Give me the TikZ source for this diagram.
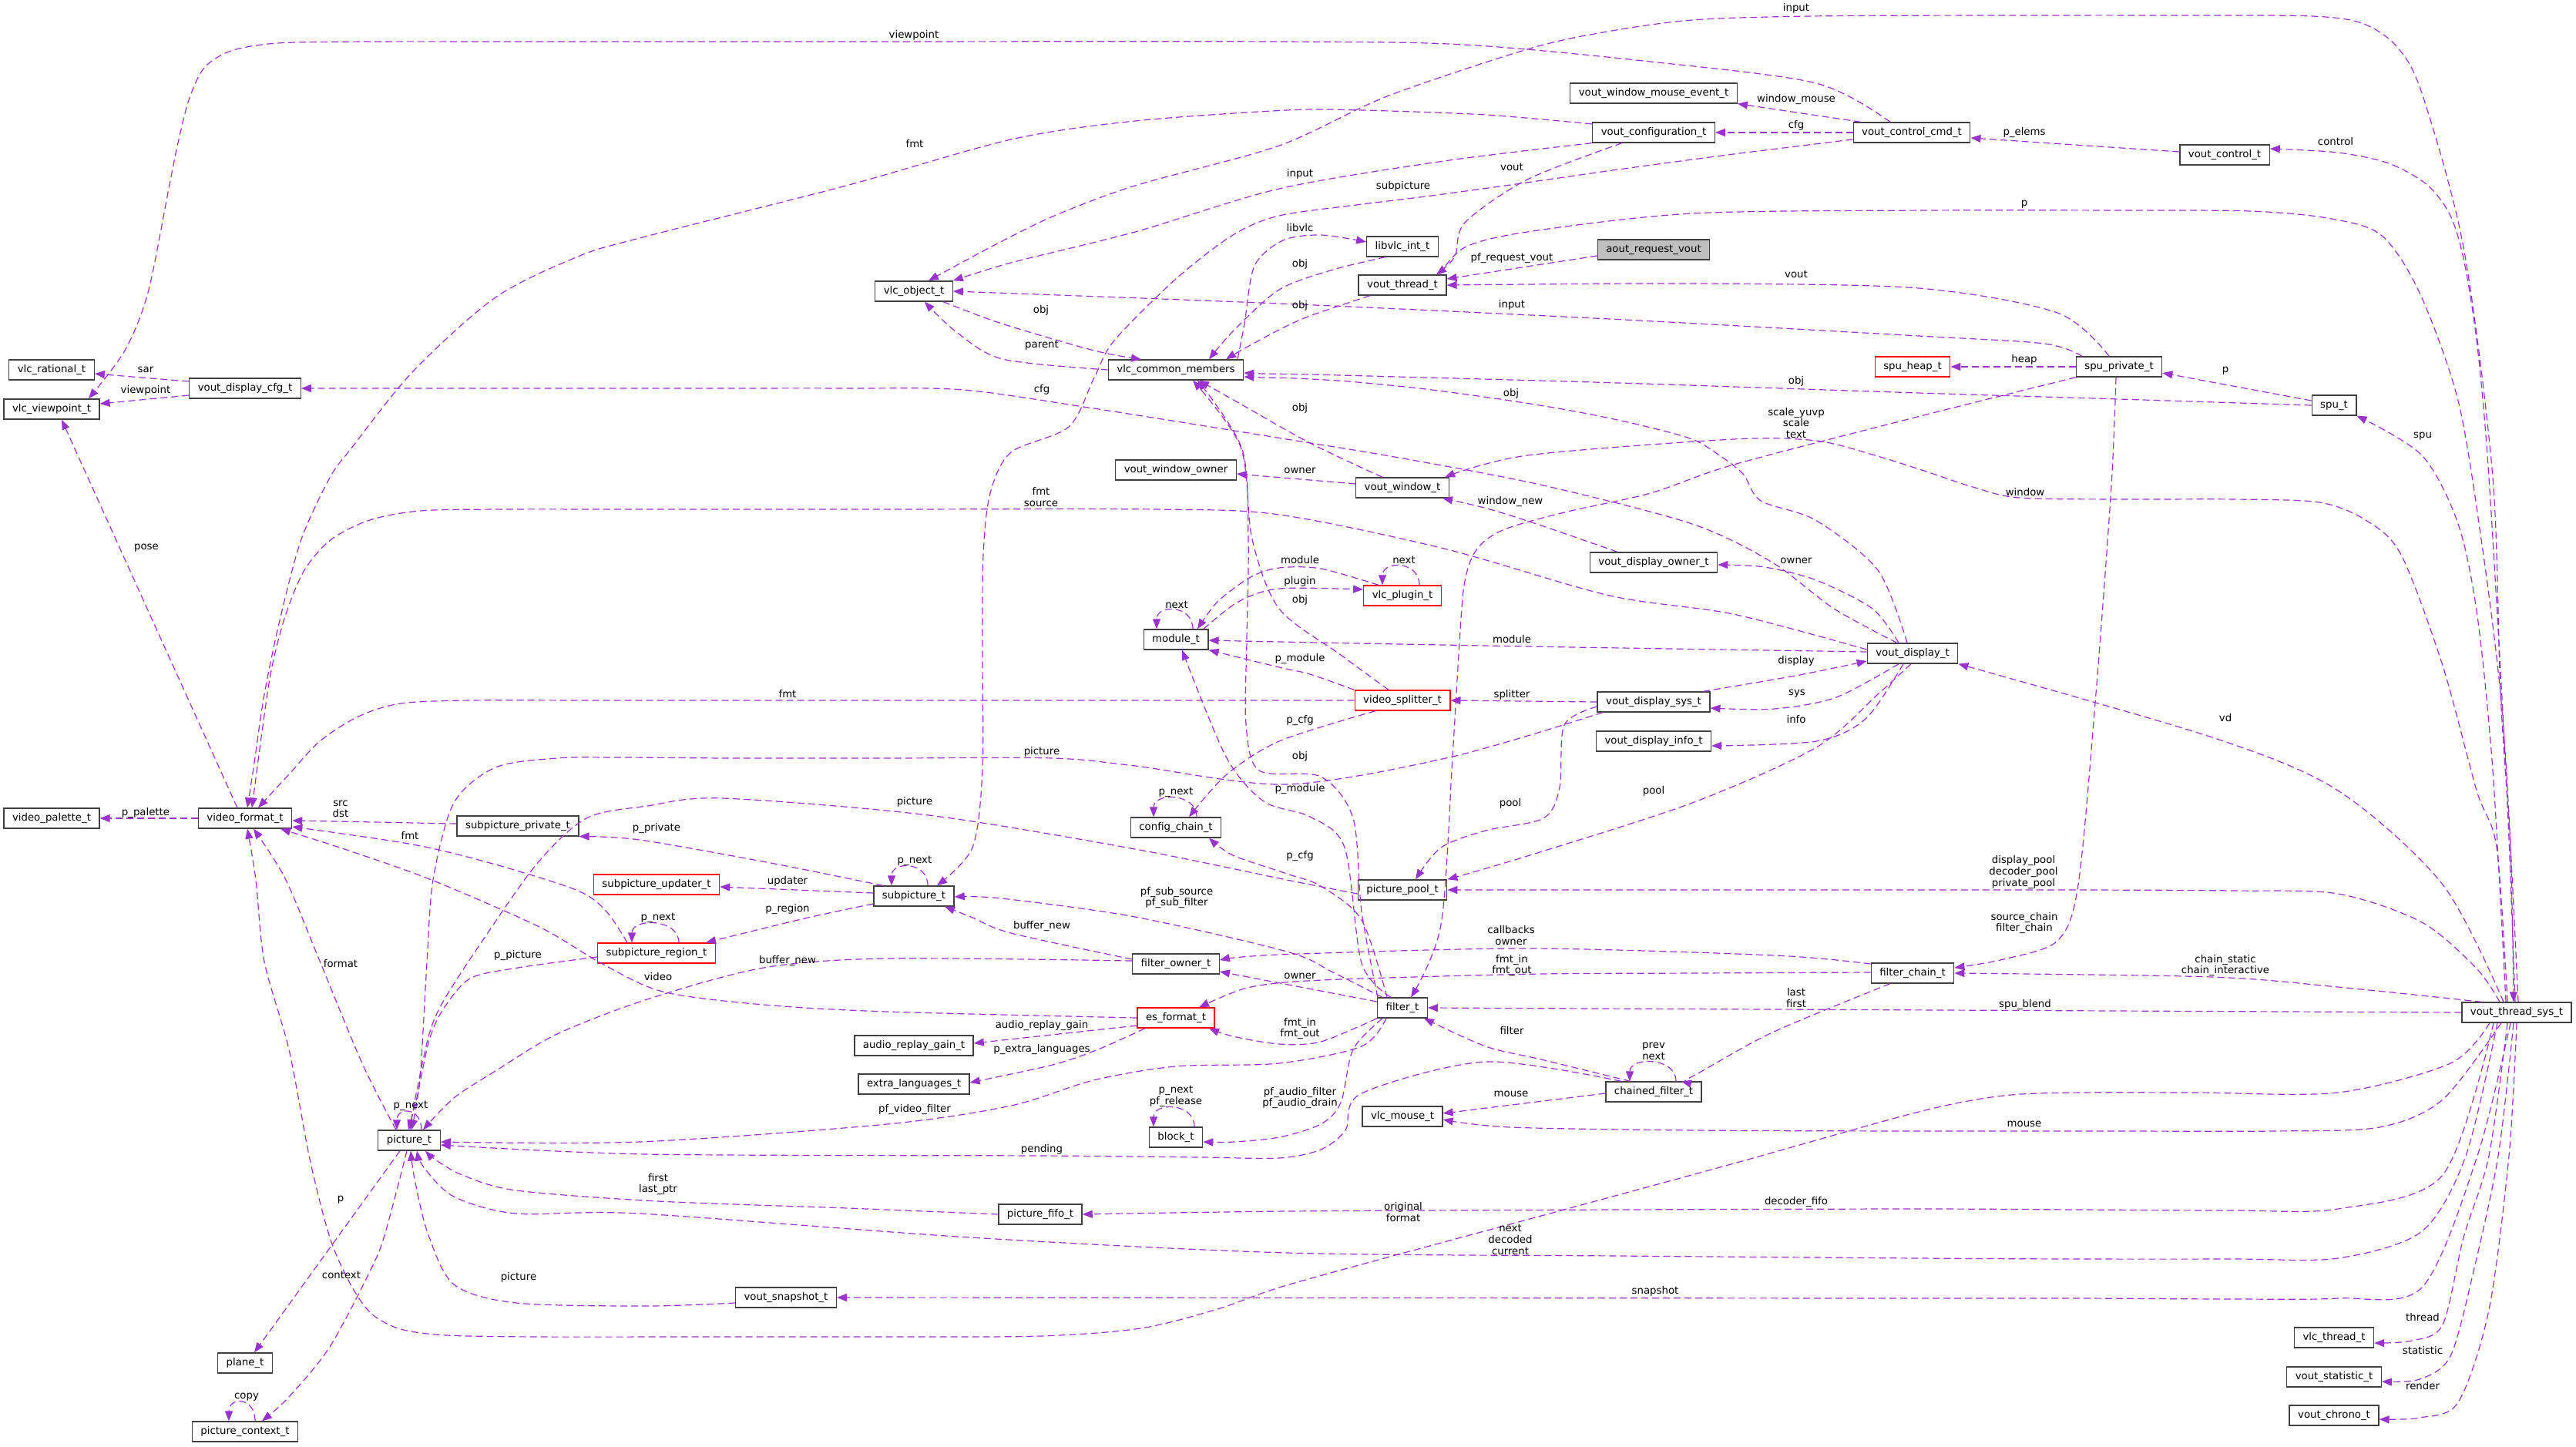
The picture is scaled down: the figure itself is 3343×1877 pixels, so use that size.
\documentclass[tikz,border=0pt]{standalone}
\usepackage{fontspec}
\setmainfont{DejaVu Sans}
\usetikzlibrary{arrows.meta}
\definecolor{orchid}{HTML}{9A32CD}
\definecolor{boxline}{HTML}{404040}

\begin{document}
\begin{tikzpicture}[x=1pt, y=-1pt,
    cls/.style={draw=boxline, line width=1.3pt, fill=white, inner xsep=11pt, inner ysep=0pt,
      minimum height=26pt, font=\fontsize{13.3}{14.7}\selectfont},
    redcls/.style={cls, draw=red},
    greycls/.style={cls, fill=black!25},
    rel/.style={draw=orchid, line width=1.2pt, dash pattern=on 9pt off 5pt,
      -{Triangle[length=13pt,width=10pt]}},
    lbl/.style={inner sep=0pt, align=center, font=\fontsize{13.3}{14.7}\selectfont}]
    \fill[white] (0,0) rectangle (3343,1877);
    \useasboundingbox (0,0) rectangle (3343,1877);

    % Classes
    \node[cls] (rational) at (67,480) {vlc\_rational\_t};
    \node[cls] (viewpoint) at (67,531) {vlc\_viewpoint\_t};
    \node[cls] (dispcfg) at (318,504) {vout\_display\_cfg\_t};
    \node[cls] (palette) at (67,1062) {video\_palette\_t};
    \node[cls] (vfmt) at (318,1062) {video\_format\_t};
    \node[cls] (plane) at (318,1769) {plane\_t};
    \node[cls] (picctx) at (318,1858) {picture\_context\_t};
    \node[cls] (pict) at (531,1480) {picture\_t};
    \node[cls] (subpriv) at (672,1072) {subpicture\_private\_t};
    \node[redcls] (subupd) at (852,1148) {subpicture\_updater\_t};
    \node[redcls] (subreg) at (852,1237) {subpicture\_region\_t};
    \node[cls] (vobj) at (1186,378) {vlc\_object\_t};
    \node[cls] (subpic) at (1186,1163) {subpicture\_t};
    \node[cls] (argain) at (1186,1357) {audio\_replay\_gain\_t};
    \node[cls] (extralang) at (1186,1407) {extra\_languages\_t};
    \node[cls] (snapshot) at (1020,1684) {vout\_snapshot\_t};
    \node[cls] (vcm) at (1526,480) {vlc\_common\_members};
    \node[cls] (winowner) at (1526,610) {vout\_window\_owner};
    \node[cls] (module) at (1526,830) {module\_t};
    \node[cls] (cfgchain) at (1526,1074) {config\_chain\_t};
    \node[cls] (fowner) at (1526,1251) {filter\_owner\_t};
    \node[redcls] (esfmt) at (1526,1321) {es\_format\_t};
    \node[cls] (block) at (1526,1476) {block\_t};
    \node[cls] (picfifo) at (1350,1576) {picture\_fifo\_t};
    \node[cls] (libvlc) at (1820,320) {libvlc\_int\_t};
    \node[cls] (vthread) at (1820,370) {vout\_thread\_t};
    \node[cls] (vwindow) at (1820,633) {vout\_window\_t};
    \node[redcls] (plugin) at (1820,773) {vlc\_plugin\_t};
    \node[redcls] (splitter) at (1820,909) {video\_splitter\_t};
    \node[cls] (picpool) at (1820,1155) {picture\_pool\_t};
    \node[cls] (filter) at (1820,1308) {filter\_t};
    \node[cls] (mouse) at (1820,1449) {vlc\_mouse\_t};
    \node[cls] (mouseevt) at (2146,121) {vout\_window\_mouse\_event\_t};
    \node[cls] (vcfg) at (2146,172) {vout\_configuration\_t};
    \node[greycls] (aout) at (2146,324) {aout\_request\_vout};
    \node[cls] (dispowner) at (2146,730) {vout\_display\_owner\_t};
    \node[cls] (dispsys) at (2146,911) {vout\_display\_sys\_t};
    \node[cls] (dispinfo) at (2146,962) {vout\_display\_info\_t};
    \node[cls] (chained) at (2146,1417) {chained\_filter\_t};
    \node[cls] (ctrlcmd) at (2481,172) {vout\_control\_cmd\_t};
    \node[redcls] (spuheap) at (2482,476) {spu\_heap\_t};
    \node[cls] (vdisplay) at (2482,848) {vout\_display\_t};
    \node[cls] (fchain) at (2482,1263) {filter\_chain\_t};
    \node[cls] (control) at (2887,201) {vout\_control\_t};
    \node[cls] (spupriv) at (2750,476) {spu\_private\_t};
    \node[cls] (spu) at (3029,526) {spu\_t};
    \node[cls] (vthreadsys) at (3266,1314) {vout\_thread\_sys\_t};
    \node[cls] (thread) at (3029,1736) {vlc\_thread\_t};
    \node[cls] (statistic) at (3029,1787) {vout\_statistic\_t};
    \node[cls] (chrono) at (3029,1837) {vout\_chrono\_t};

    % Left column
    \draw[rel] ([yshift=9pt]dispcfg.west) -- ([yshift=-5pt]rational.east);
    \draw[rel] ([yshift=-9pt]dispcfg.west) -- ([yshift=7pt]viewpoint.east);
    \draw[rel] plot[smooth] coordinates {([xshift=-28pt]ctrlcmd.north) (2357,108) (2142,80) (1900,58) (1660,54) (1100,54) (700,54) (480,54) (360,56) (300,66) (265,88) (245,130) (230,190) (218,250) (192,380) (162,455) ([xshift=48pt]viewpoint.north)};
    \draw[rel] ([xshift=-10pt]vfmt.north) -- ([xshift=13pt]viewpoint.south);
    \draw[rel] (vfmt.west) -- (palette.east);
    \draw[rel] ([yshift=3pt]subpriv.west) -- ([yshift=-3pt]vfmt.east);
    \draw[rel] plot[smooth] coordinates {([xshift=-38pt]subreg.north) (787,1183) (750,1156) (643,1122) (536,1096) ([yshift=-11pt]vfmt.east)};
    \draw[rel] plot[smooth] coordinates {(esfmt.west) (1151,1313) (991,1304) (860,1287) (780,1250) (700,1203) (560,1142) (450,1103) ([xshift=46pt]vfmt.south)};
    \draw[rel] plot[smooth] coordinates {([yshift=5pt]vdisplay.west) (2249,797) (2089,773) (1874,712) (1660,668) (1500,661) (1150,661) (850,661) (650,661) (545,663) (480,675) (430,700) (395,740) (370,800) (352,870) (340,950) ([xshift=9pt]vfmt.north)};
    \draw[rel] plot[smooth] coordinates {(splitter.west) (1400,909) (1050,909) (780,909) (610,909) (520,913) (465,930) (415,962) (375,1005) ([xshift=17pt]vfmt.north)};
    \draw[rel] plot[smooth] coordinates {([yshift=11pt]vcfg.west) (1928,149) (1767,143) (1670,143) (1473,157) (1312,181) (1098,241) (830,309) (750,333) (643,386) (536,482) (455,583) (428,620) (391,700) (364,801) (343,901) (330,990) ([xshift=3pt]vfmt.north)};
    \draw[rel] plot[smooth] coordinates {([xshift=-20pt]vdisplay.north) (2380,790) (2300,730) (2196,680) (2003,630) (1821,595) (1670,570) (1419,530) (1250,506) (1100,504) (900,504) (650,504) (dispcfg.east)};

    % vlc_object_t and vout_thread_t
    \draw[rel] plot[smooth] coordinates {([xshift=2pt]vthreadsys.north) (3258,1100) (3245,900) (3235,620) (3197,321) (3143,121) (3110,60) (3065,30) (3000,21) (2850,20) (2600,20) (2350,21) (2196,26) (2080,42) (1982,64) (1800,125) (1660,189) (1473,241) (1366,281) (1285,321) ([xshift=19pt]vobj.north)};
    \draw[rel] plot[smooth] coordinates {(vcfg.south west) (1874,209) (1660,245) (1473,301) (1312,341) (vobj.north east)};
    \draw[rel] plot[smooth] coordinates {([xshift=-48pt]spupriv.north) (2653,446) (2490,436) (2089,414) (1660,394) (vobj.east)};
    \draw[rel] plot[smooth] coordinates {([yshift=-9pt]ctrlcmd.west) (2250,200) (2100,220) (1960,240) (1850,255) (1760,266) (1660,280) (1600,305) (1526,362) (1446,442) (1420,490) (1387,554) (1312,587) (1285,640) (1276,720) (1275,850) (1275,1000) (1262,1100) ([xshift=30pt]subpic.north)};
    \draw[rel] plot[smooth] coordinates {([xshift=-41pt]vcfg.south) (1982,233) (1901,289) (1888,333) ([xshift=44pt]vthread.north)};
    \draw[rel] ([yshift=-8pt]aout.west) -- ([yshift=8pt]vthread.east);
    \draw[rel] plot[smooth] coordinates {([xshift=-13pt]spupriv.north) (2670,406) (2490,374) (2200,368) (vthread.east)};
    \draw[rel] plot[smooth] coordinates {([xshift=48pt]vthread.north) (1901,321) (1982,301) (2196,277) (2500,273) (2750,273) (2920,274) (3020,283) (3090,305) (3140,380) (3190,520) (3220,700) (3245,900) (3258,1100) ([xshift=-4pt]vthreadsys.north)};

    % vlc_common_members
    \draw[rel] plot[smooth] coordinates {([xshift=80pt]vcm.north) (1615,420) (1628,345) (1665,312) (1714,305) ([yshift=6pt]libvlc.west)};
    \draw[rel] plot[smooth] coordinates {([xshift=-22pt]libvlc.south) (1730,350) (1660,376) (1600,430) ([xshift=43pt]vcm.north)};
    \draw[rel] plot[smooth] coordinates {([xshift=-42pt]vthread.south) (1700,410) (1660,428) (1610,455) ([xshift=65pt]vcm.north)};
    \draw[rel] plot[smooth] coordinates {([xshift=38pt]vobj.south) (1300,420) (1420,455) ([xshift=-45pt]vcm.north)};
    \draw[rel] plot[smooth] coordinates {(vcm.west) (1301,466) (1240,430) ([xshift=14pt]vobj.south)};
    \draw[rel] plot[smooth] coordinates {(spu.west) (2750,518) (2490,510) (2100,497) (1850,490) (1700,486) (1640,485) ([yshift=-4pt]vcm.east)};
    \draw[rel] plot[smooth] coordinates {([xshift=-7pt]vdisplay.north) (2437,740) (2356,675) (2285,650) (2262,615) (2230,590) (2196,570) (2130,552) (2050,535) (1960,520) (1850,505) (1750,495) (1680,491) (1640,490) ([yshift=-9pt]vcm.east)};
    \draw[rel] plot[smooth] coordinates {([xshift=-26pt]vwindow.north) (1700,575) (1620,530) ([xshift=30pt]vcm.south)};
    \draw[rel] plot[smooth] coordinates {([xshift=-18pt]splitter.north) (1740,850) (1660,790) (1625,700) (1610,580) ([xshift=22pt]vcm.south)};
    \draw[rel] plot[smooth] coordinates {([xshift=-32pt]filter.north) (1767,1183) (1756,1062) (1714,1008) (1634,1000) (1617,940) (1618,830) (1620,700) (1612,583) ([xshift=28pt]vcm.south)};

    % vout_window_t and spu
    \draw[rel] ([yshift=5pt]vwindow.west) -- ([yshift=-5pt]winowner.east);
    \draw[rel] plot[smooth] coordinates {([xshift=-47pt]dispowner.north) (2000,682) (1930,660) ([xshift=52pt]vwindow.south)};
    \draw[rel] plot[smooth] coordinates {([xshift=-12pt]vthreadsys.north) (3240,1100) (3214,1026) (3170,864) (3116,720) (3070,675) (3010,652) (2900,648) (2750,648) (2620,646) (2560,632) (2500,612) (2430,590) (2357,572) (2250,570) (1982,591) ([xshift=55pt]vwindow.north)};
    \draw[rel] plot[smooth] coordinates {([xshift=-18pt]vdisplay.north) (2430,790) (2357,753) (2290,736) ([yshift=-3pt]dispowner.east)};
    \draw[rel] plot[smooth] coordinates {([xshift=-56pt]spupriv.south) (2500,538) (2250,603) (2142,640) (2030,665) (1950,688) (1915,715) (1900,760) (1893,850) (1885,982) (1870,1200) ([xshift=11pt]filter.north)};
    \draw[rel] plot[smooth] coordinates {([xshift=-4pt]spupriv.south) (2740,630) (2720,900) (2697,1148) (2670,1221) (2600,1245) ([yshift=7pt]fchain.east)};
    \draw[rel] (spupriv.west) -- (spuheap.east);
    \draw[rel] ([yshift=6pt]spu.west) -- ([yshift=-8pt]spupriv.east);
    \draw[rel] plot[smooth] coordinates {([xshift=-14pt]vthreadsys.north) (3235,1000) (3215,800) (3190,680) (3143,591) (spu.south east)};
    \draw[rel] plot[smooth] coordinates {([xshift=-2pt]vthreadsys.north) (3252,1000) (3230,620) (3215,450) (3198,340) (3180,280) (3150,240) (3100,212) (3034,198) ([yshift=8pt]control.east)};
    \draw[rel] ([yshift=4pt]control.west) -- ([yshift=-7pt]ctrlcmd.east);
    \draw[rel] (ctrlcmd.west) -- (vcfg.east);
    \draw[rel] ([xshift=-66pt]ctrlcmd.north) -- (mouseevt.south east);

    % module_t, vlc_plugin_t, config_chain_t
    \draw[rel] ([xshift=22pt]module.north) .. controls +(0,-32) and +(0,-32) .. ([xshift=-25pt]module.north);
    \draw[rel] plot[smooth] coordinates {([xshift=-31pt]plugin.north) (1714,738) (1660,737) (1623,749) (1580,781) ([xshift=28pt]module.north)};
    \draw[rel] plot[smooth] coordinates {([xshift=36pt]module.north) (1607,781) (1660,764) ([yshift=8pt]plugin.west)};
    \draw[rel] ([xshift=22pt]plugin.north) .. controls +(0,-32) and +(0,-32) .. ([xshift=-26pt]plugin.north);
    \draw[rel] plot[smooth] coordinates {([yshift=2pt]vdisplay.west) (1982,839) (1660,833) ([yshift=-1pt]module.east)};
    \draw[rel] plot[smooth] coordinates {(splitter.north west) (1700,875) (1660,866) (module.south east)};
    \draw[rel] plot[smooth] coordinates {([xshift=-15pt]filter.north) (1767,1250) (1745,1100) (1700,1060) (1640,1040) (1591,982) ([xshift=8pt]module.south)};
    \draw[rel] plot[smooth] coordinates {([xshift=-35pt]splitter.south) (1660,962) (1591,1006) ([xshift=17pt]cfgchain.north)};
    \draw[rel] plot[smooth] coordinates {([xshift=-20pt]filter.north) (1767,1194) (1714,1150) (1670,1134) (1600,1110) ([xshift=43pt]cfgchain.south)};
    \draw[rel] ([xshift=27pt]cfgchain.north) .. controls +(0,-32) and +(0,-32) .. ([xshift=-29pt]cfgchain.north);

    % vout_display_t
    \draw[rel] plot[smooth] coordinates {([xshift=64pt]dispsys.north) (2330,877) ([yshift=-10pt]vdisplay.west)};
    \draw[rel] (dispsys.west) -- (splitter.east);
    \draw[rel] plot[smooth] coordinates {([xshift=-18pt]vdisplay.south) (2383,905) (2303,920) ([yshift=-8pt]dispsys.east)};
    \draw[rel] plot[smooth] coordinates {([xshift=-12pt]vdisplay.south) (2421,933) (2357,962) ([yshift=-6pt]dispinfo.east)};
    \draw[rel] plot[smooth] coordinates {([xshift=-2pt]vdisplay.south) (2437,901) (2357,970) (2196,1042) (1982,1111) (picpool.north east)};
    \draw[rel] plot[smooth] coordinates {([yshift=-6pt]dispsys.west) (2030,941) (2024,1022) (2003,1062) (1928,1078) (1870,1100) ([xshift=17pt]picpool.north)};

    % picture_t
    \draw[rel] plot[smooth] coordinates {([xshift=-66pt]dispsys.south) (1885,982) (1670,1018) (1473,994) (1366,984) (1150,984) (950,984) (800,983) (723,984) (643,996) (589,1042) (562,1142) (554,1250) (545,1400) ([xshift=3pt]pict.north)};
    \draw[rel] plot[smooth] coordinates {([yshift=-5pt]picpool.west) (1670,1142) (1473,1102) (1205,1058) (937,1036) (840,1046) (761,1062) (696,1122) (620,1230) (575,1300) (557,1342) (540,1420) ([xshift=1pt]pict.north)};
    \draw[rel] plot[smooth] coordinates {([yshift=-5pt]subreg.west) (672,1256) (610,1270) (575,1310) (557,1350) (542,1420) ([xshift=-1pt]pict.north)};
    \draw[rel] plot[smooth] coordinates {([yshift=4pt]fowner.west) (1151,1244) (991,1256) (840,1297) (723,1342) (643,1390) (589,1425) ([xshift=18pt]pict.north)};
    \draw[rel] plot[smooth] coordinates {([yshift=-7pt]snapshot.west) (840,1695) (670,1691) (589,1667) (555,1600) (538,1530) ([xshift=2pt]pict.south)};
    \draw[rel] plot[smooth] coordinates {(picfifo.west) (1100,1568) (854,1559) (670,1545) (600,1525) (565,1505) ([xshift=21pt]pict.south)};
    \draw[rel] plot[smooth] coordinates {([xshift=-25pt]vthreadsys.south) (3200,1500) (3143,1598) (3034,1633) (2900,1634) (2700,1634) (2490,1633) (2100,1630) (1670,1626) (1259,1606) (830,1575) (670,1575) (589,1553) (550,1515) ([xshift=10pt]pict.south)};
    \draw[rel] plot[smooth] coordinates {([xshift=-42pt]chained.north) (1928,1378) (1767,1419) (1746,1467) (1714,1492) (1660,1503) (1560,1502) (1352,1500) (840,1498) ([yshift=-6pt]pict.east)};
    \draw[rel] plot[smooth] coordinates {([xshift=-21pt]filter.south) (1767,1358) (1660,1380) (1526,1384) (1419,1402) (1312,1435) (1151,1459) (830,1482) ([yshift=-2pt]pict.east)};
    \draw[rel] ([xshift=16pt]pict.north) .. controls +(0,-30) and +(0,-30) .. ([xshift=-16pt]pict.north);
    \draw[rel] ([xshift=-12pt]pict.south) -- ([xshift=12pt]plane.north);
    \draw[rel] plot[smooth] coordinates {([xshift=-3pt]pict.south) (500,1600) (482,1646) (428,1748) (375,1813) ([xshift=22pt]picctx.north)};
    \draw[rel] ([xshift=13pt]picctx.north) .. controls +(0,-32) and +(0,-32) .. ([xshift=-21pt]picctx.north);
    \draw[rel] plot[smooth] coordinates {([xshift=-17pt]pict.north) (470,1380) (412,1240) (370,1140) ([xshift=11pt]vfmt.south)};

    % filter_t and friends
    \draw[rel] plot[smooth] coordinates {([xshift=-26pt]filter.south) (1756,1362) (1740,1431) (1714,1459) (1660,1476) (1601,1482) ([yshift=-6pt]block.east)};
    \draw[rel] ([xshift=24pt]block.north) .. controls +(0,-32) and +(0,-32) .. ([xshift=-29pt]block.north);
    \draw[rel] plot[smooth] coordinates {([xshift=-26pt]filter.north) (1730,1262) (1670,1235) (1473,1190) (1300,1166) ([yshift=-1pt]subpic.east)};
    \draw[rel] plot[smooth] coordinates {([yshift=6pt]fowner.west) (1312,1211) (1260,1190) ([xshift=40pt]subpic.south)};
    \draw[rel] plot[smooth] coordinates {([yshift=12pt]fchain.west) (2303,1240) (1981,1231) (1660,1239) ([yshift=5pt]fowner.east)};
    \draw[rel] ([yshift=8pt]filter.west) -- ([yshift=-10pt]fowner.east);
    \draw[rel] plot[smooth] coordinates {([yshift=1pt]fchain.west) (2200,1263) (2000,1264) (1800,1269) (1680,1274) (1615,1283) ([xshift=30pt]esfmt.north)};
    \draw[rel] plot[smooth] coordinates {(filter.south west) (1714,1352) (1660,1355) (1600,1345) ([xshift=43pt]esfmt.south)};
    \draw[rel] ([yshift=-10pt]esfmt.west) -- ([yshift=3pt]argain.east);
    \draw[rel] plot[smooth] coordinates {([xshift=-40pt]esfmt.south) (1425,1362) (1366,1382) ([yshift=2pt]extralang.east)};

    % subpicture_t
    \draw[rel] ([xshift=18pt]subpic.north) .. controls +(0,-32) and +(0,-32) .. ([xshift=-29pt]subpic.north);
    \draw[rel] plot[smooth] coordinates {([xshift=-40pt]subpic.north) (1000,1120) (830,1090) (subpriv.south east)};
    \draw[rel] ([yshift=4pt]subpic.west) -- ([yshift=-3pt]subupd.east);
    \draw[rel] plot[smooth] coordinates {([yshift=-10pt]subpic.west) (1044,1192) ([xshift=64pt]subreg.north)};
    \draw[rel] ([xshift=29pt]subreg.north) .. controls +(0,-32) and +(0,-32) .. ([xshift=-32pt]subreg.north);

    % chained_filter_t and filter_chain_t
    \draw[rel] plot[smooth] coordinates {([xshift=-30pt]chained.north) (2000,1375) (1928,1358) ([xshift=28pt]filter.south)};
    \draw[rel] ([xshift=29pt]chained.north) .. controls +(0,-32) and +(0,-32) .. ([xshift=-31pt]chained.north);
    \draw[rel] plot[smooth] coordinates {([xshift=-29pt]fchain.south) (2300,1340) (2200,1395) ([xshift=36pt]chained.north)};
    \draw[rel] ([yshift=-2pt]chained.west) -- ([yshift=4pt]mouse.east);

    % vout_thread_sys_t
    \draw[rel] plot[smooth] coordinates {([xshift=-20pt]vthreadsys.south) (3170,1427) (3088,1463) (2950,1468) (2750,1468) (2490,1468) (2200,1467) (1960,1463) ([yshift=-4pt]mouse.east)};
    \draw[rel] (vthreadsys.west) -- (filter.east);
    \draw[rel] plot[smooth] coordinates {([xshift=-45pt]vthreadsys.north) (3034,1281) (2871,1268) (fchain.east)};
    \draw[rel] plot[smooth] coordinates {([xshift=-22pt]vthreadsys.north) (3214,1257) (3143,1197) (3034,1160) (2900,1156) (2700,1155) (2490,1155) (picpool.east)};
    \draw[rel] plot[smooth] coordinates {([xshift=-17pt]vthreadsys.north) (3170,1148) (3034,1026) (2871,957) (vdisplay.south east)};
    \draw[rel] plot[smooth] coordinates {([xshift=-30pt]vthreadsys.south) (3170,1525) (3034,1569) (2900,1571) (2700,1570) (2490,1569) (2100,1570) (1670,1572) (picfifo.east)};
    \draw[rel] plot[smooth] coordinates {([xshift=-8pt]vthreadsys.south) (3215,1500) (3143,1671) (3034,1685) (2900,1686) (2700,1685) (2490,1685) (snapshot.east)};
    \draw[rel] plot[smooth] coordinates {([xshift=-35pt]vthreadsys.south) (3180,1380) (3034,1418) (2850,1418) (2700,1418) (2600,1422) (2490,1443) (2250,1510) (2000,1578) (1800,1632) (1660,1671) (1580,1699) (1480,1724) (1350,1734) (1150,1735) (900,1735) (700,1735) (580,1733) (520,1725) (482,1705) (455,1667) (428,1606) (402,1504) (375,1362) (343,1248) (332,1142) ([xshift=3pt]vfmt.south)};
    \draw[rel] plot[smooth] coordinates {([xshift=-12pt]vthreadsys.south) (3230,1500) (3197,1606) (3170,1719) (3130,1740) ([yshift=-7pt]thread.east)};
    \draw[rel] plot[smooth] coordinates {([xshift=-4pt]vthreadsys.south) (3242,1500) (3210,1650) (3180,1760) (3140,1790) ([yshift=-6pt]statistic.east)};
    \draw[rel] plot[smooth] coordinates {(vthreadsys.south) (3256,1500) (3230,1700) (3190,1820) (3140,1840) ([yshift=-5pt]chrono.east)};

    % Labels
    \node[lbl] (lsar) at (189,480) {sar};
    \node[lbl] (lview1) at (189,507) {viewpoint};
    \node[lbl] (lview2) at (1186,46) {viewpoint};
    \node[lbl] (lpose) at (190,711) {pose};
    \node[lbl] (lpal) at (189,1055) {p\_palette};
    \node[lbl] (lsrc) at (442,1050) {src\\dst};
    \node[lbl] (lfmt1) at (532,1084) {fmt};
    \node[lbl] (lvideo) at (854,1268) {video};
    \node[lbl] (lfmtsrc) at (1351,645) {fmt\\source};
    \node[lbl] (lfmt2) at (1022,900) {fmt};
    \node[lbl] (lfmt3) at (1187,186) {fmt};
    \node[lbl] (lcfg1) at (1352,506) {cfg};
    \node[lbl] (linput1) at (2331,11) {input};
    \node[lbl] (linput2) at (1687,226) {input};
    \node[lbl] (linput3) at (1962,396) {input};
    \node[lbl] (lsubpic) at (1821,242) {subpicture};
    \node[lbl] (lvout1) at (1962,217) {vout};
    \node[lbl] (lreq) at (1962,335) {pf\_request\_vout};
    \node[lbl] (lvout2) at (2331,356) {vout};
    \node[lbl] (lp1) at (2627,265) {p};
    \node[lbl] (llibvlc) at (1687,296) {libvlc};
    \node[lbl] (lobj1) at (1687,343) {obj};
    \node[lbl] (lobj2) at (1687,397) {obj};
    \node[lbl] (lobj3) at (1351,403) {obj};
    \node[lbl] (lparent) at (1352,448) {parent};
    \node[lbl] (lobj4) at (2331,495) {obj};
    \node[lbl] (lobj5) at (1961,511) {obj};
    \node[lbl] (lobj6) at (1687,530) {obj};
    \node[lbl] (lobj7) at (1687,779) {obj};
    \node[lbl] (lobj8) at (1687,982) {obj};
    \node[lbl] (lowner1) at (1687,611) {owner};
    \node[lbl] (lwinnew) at (1960,651) {window\_new};
    \node[lbl] (lwindow) at (2628,639) {window};
    \node[lbl] (lowner2) at (2331,728) {owner};
    \node[lbl] (lscale) at (2331,549) {scale\_yuvp\\scale\\text};
    \node[lbl] (lsrcchain) at (2627,1198) {source\_chain\\filter\_chain};
    \node[lbl] (lheap) at (2627,467) {heap};
    \node[lbl] (lp2) at (2888,481) {p};
    \node[lbl] (lspu) at (3144,566) {spu};
    \node[lbl] (lcontrol) at (3031,184) {control};
    \node[lbl] (lpelems) at (2627,172) {p\_elems};
    \node[lbl] (lcfg2) at (2331,163) {cfg};
    \node[lbl] (lwinmouse) at (2331,129) {window\_mouse};
    \node[lbl] (lnext1) at (1527,785) {next};
    \node[lbl] (lmodule1) at (1687,727) {module};
    \node[lbl] (lplugin) at (1687,755) {plugin};
    \node[lbl] (lnext2) at (1822,727) {next};
    \node[lbl] (lmodule2) at (1962,830) {module};
    \node[lbl] (lpmod1) at (1687,855) {p\_module};
    \node[lbl] (lpmod2) at (1687,1024) {p\_module};
    \node[lbl] (lpcfg1) at (1687,935) {p\_cfg};
    \node[lbl] (lpcfg2) at (1687,1111) {p\_cfg};
    \node[lbl] (lpnext1) at (1526,1028) {p\_next};
    \node[lbl] (ldisplay) at (2331,858) {display};
    \node[lbl] (lsplitter) at (1962,902) {splitter};
    \node[lbl] (lsys) at (2332,900) {sys};
    \node[lbl] (linfo) at (2331,934) {info};
    \node[lbl] (lpool1) at (2146,1027) {pool};
    \node[lbl] (lpool2) at (1960,1043) {pool};
    \node[lbl] (lpicture1) at (1352,976) {picture};
    \node[lbl] (lpicture2) at (1187,1041) {picture};
    \node[lbl] (lppicture) at (672,1240) {p\_picture};
    \node[lbl] (lbufnew1) at (1022,1247) {buffer\_new};
    \node[lbl] (lpicture3) at (673,1658) {picture};
    \node[lbl] (lfirst) at (854,1537) {first\\last\_ptr};
    \node[lbl] (lnext3) at (1960,1609) {next\\decoded\\current};
    \node[lbl] (lpending) at (1352,1492) {pending};
    \node[lbl] (lpfvideo) at (1187,1440) {pf\_video\_filter};
    \node[lbl] (lpfaudio) at (1687,1425) {pf\_audio\_filter\\pf\_audio\_drain};
    \node[lbl] (lpnext2) at (1526,1423) {p\_next\\pf\_release};
    \node[lbl] (lpfsub) at (1527,1165) {pf\_sub\_source\\pf\_sub\_filter};
    \node[lbl] (lbufnew2) at (1352,1202) {buffer\_new};
    \node[lbl] (lcallbacks) at (1961,1214) {callbacks\\owner};
    \node[lbl] (lowner3) at (1687,1267) {owner};
    \node[lbl] (lfmtin1) at (1962,1253) {fmt\_in\\fmt\_out};
    \node[lbl] (lfmtin2) at (1687,1335) {fmt\_in\\fmt\_out};
    \node[lbl] (lgain) at (1352,1331) {audio\_replay\_gain};
    \node[lbl] (lextra) at (1352,1362) {p\_extra\_languages};
    \node[lbl] (lpnext3) at (1187,1117) {p\_next};
    \node[lbl] (lpriv) at (852,1075) {p\_private};
    \node[lbl] (lupdater) at (1022,1144) {updater};
    \node[lbl] (lregion) at (1022,1180) {p\_region};
    \node[lbl] (lpnext4) at (854,1191) {p\_next};
    \node[lbl] (lfilter) at (1962,1338) {filter};
    \node[lbl] (lprev) at (2146,1364) {prev\\next};
    \node[lbl] (llast) at (2331,1295) {last\\first};
    \node[lbl] (lmouse1) at (1961,1420) {mouse};
    \node[lbl] (lmouse2) at (2627,1459) {mouse};
    \node[lbl] (lblend) at (2628,1304) {spu\_blend};
    \node[lbl] (lchain) at (2888,1253) {chain\_static\\chain\_interactive};
    \node[lbl] (ldpool) at (2626,1132) {display\_pool\\decoder\_pool\\private\_pool};
    \node[lbl] (lvd) at (2888,932) {vd};
    \node[lbl] (ldecfifo) at (2331,1560) {decoder\_fifo};
    \node[lbl] (lsnap) at (2148,1676) {snapshot};
    \node[lbl] (lorig) at (1821,1573) {original\\format};
    \node[lbl] (lthread) at (3144,1710) {thread};
    \node[lbl] (lstat) at (3144,1753) {statistic};
    \node[lbl] (lrender) at (3144,1799) {render};
    \node[lbl] (lpnext5) at (533,1435) {p\_next};
    \node[lbl] (lp3) at (442,1557) {p};
    \node[lbl] (lcontext) at (443,1655) {context};
    \node[lbl] (lcopy) at (320,1813) {copy};
    \node[lbl] (lformat) at (442,1251) {format};
\end{tikzpicture}
\end{document}
